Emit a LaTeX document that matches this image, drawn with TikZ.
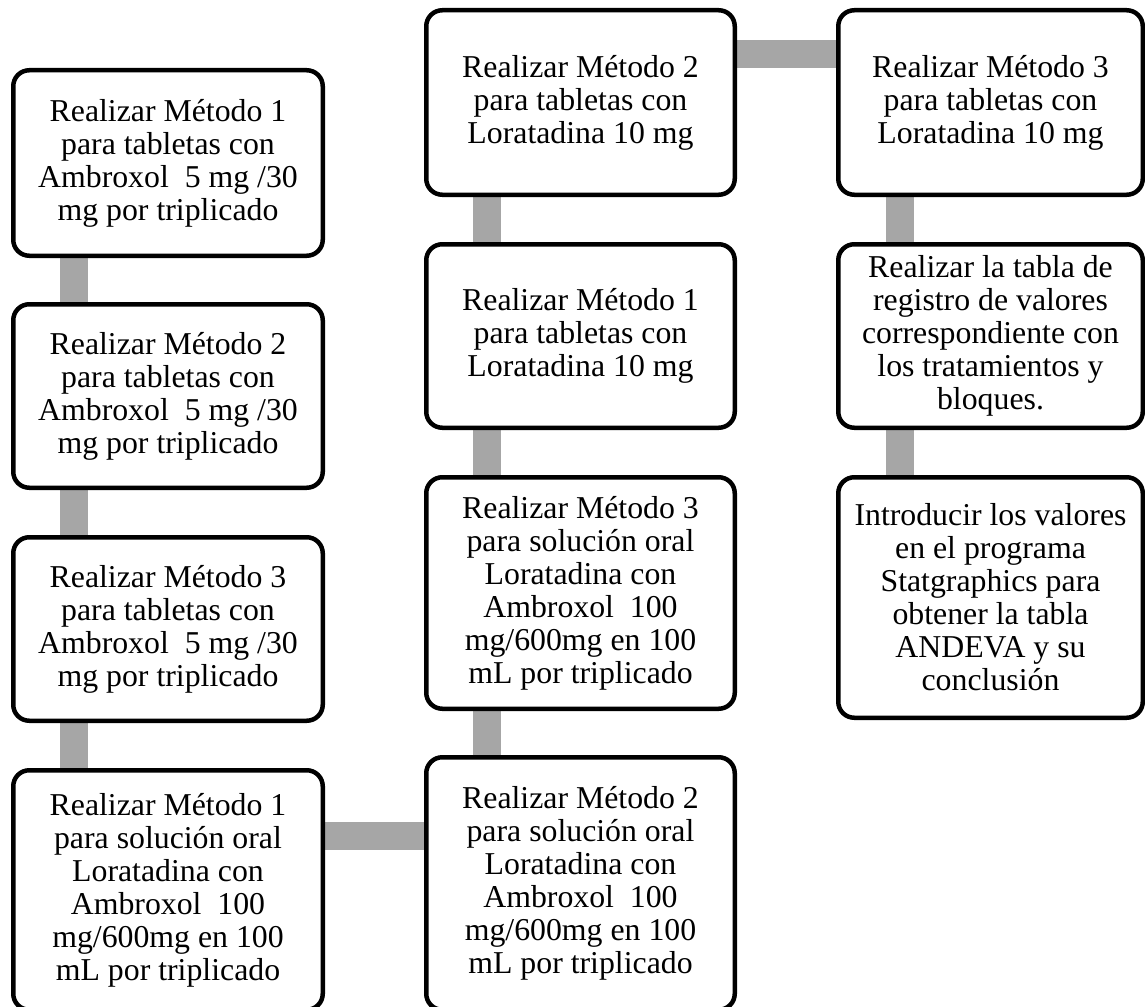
\documentclass[tikz,border=0pt]{standalone}
\usepackage{fontspec}
\setmainfont{Liberation Serif}
\usepackage{xcolor}
\usepackage{tikz}
\usetikzlibrary{backgrounds}

\definecolor{barragris}{RGB}{166,166,166}
\tikzset{
  pasobox/.style={draw=black, line width=4.5pt, fill=white, rounded corners=16pt,
    align=center, inner sep=0pt, font=\fontsize{31.8}{33}\selectfont},
  enlace/.style={draw=barragris, line width=28pt}
}

\begin{document}
\begin{tikzpicture}[x=1pt, y=-1pt]
\useasboundingbox (0,0) rectangle (1145,1006);
\clip (0,0) rectangle (1145,1006);
% columna izquierda
\node[pasobox, minimum width=309.5pt, minimum height=185.5pt] (a1) at (168,163) {Realizar Método 1\\para tabletas con\\Ambroxol~ 5 mg /30\\mg por triplicado};
\node[pasobox, minimum width=309.5pt, minimum height=183.5pt] (a2) at (168,396) {Realizar Método 2\\para tabletas con\\Ambroxol~ 5 mg /30\\mg por triplicado};
\node[pasobox, minimum width=309.5pt, minimum height=183.5pt] (a3) at (168,629) {Realizar Método 3\\para tabletas con\\Ambroxol~ 5 mg /30\\mg por triplicado};
\node[pasobox, minimum width=309.5pt, minimum height=239.5pt] (a4) at (168,890) {Realizar Método 1\\para solución oral\\Loratadina con\\Ambroxol~ 100\\mg/600mg en 100\\mL por triplicado};
% columna central
\node[pasobox, minimum width=308.5pt, minimum height=184.5pt] (b1) at (580.5,102.5) {Realizar Método 2\\para tabletas con\\Loratadina 10 mg};
\node[pasobox, minimum width=308.5pt, minimum height=183.5pt] (b2) at (580.5,336) {Realizar Método 1\\para tabletas con\\Loratadina 10 mg};
\node[pasobox, minimum width=308.5pt, minimum height=231.5pt] (b3) at (580.5,593) {Realizar Método 3\\para solución oral\\Loratadina con\\Ambroxol~ 100\\mg/600mg en 100\\mL por triplicado};
\node[pasobox, minimum width=308.5pt, minimum height=252.5pt] (b4) at (580.5,883.5) {Realizar Método 2\\para solución oral\\Loratadina con\\Ambroxol~ 100\\mg/600mg en 100\\mL por triplicado};
% columna derecha
\node[pasobox, minimum width=304.5pt, minimum height=184.5pt] (c1) at (990.5,102.5) {Realizar Método 3\\para tabletas con\\Loratadina 10 mg};
\node[pasobox, minimum width=304.5pt, minimum height=183.5pt] (c2) at (990.5,336) {Realizar la tabla de\\registro de valores\\correspondiente con\\los tratamientos y\\bloques.};
\node[pasobox, minimum width=304.5pt, minimum height=240.5pt] (c3) at (990.5,597.5) {Introducir los valores\\en el programa\\Statgraphics para\\obtener la tabla\\ANDEVA y su\\conclusión};

\coordinate (ab) at ([yshift=-68pt]a4.north east);
\coordinate (bc) at ([yshift=-46pt]b1.north east);
\begin{scope}[on background layer]
\draw[enlace] ([xshift=63pt]a1.south west) -- ([xshift=63pt]a2.north west);
\draw[enlace] ([xshift=63pt]a2.south west) -- ([xshift=63pt]a3.north west);
\draw[enlace] ([xshift=63pt]a3.south west) -- ([xshift=63pt]a4.north west);
\draw[enlace] (ab) -- (ab -| b4.west);
\draw[enlace] ([xshift=63pt]b4.north west) -- ([xshift=63pt]b3.south west);
\draw[enlace] ([xshift=63pt]b3.north west) -- ([xshift=63pt]b2.south west);
\draw[enlace] ([xshift=63pt]b2.north west) -- ([xshift=63pt]b1.south west);
\draw[enlace] (bc) -- (bc -| c1.west);
\draw[enlace] ([xshift=64pt]c1.south west) -- ([xshift=64pt]c2.north west);
\draw[enlace] ([xshift=64pt]c2.south west) -- ([xshift=64pt]c3.north west);
\end{scope}
\end{tikzpicture}
\end{document}
